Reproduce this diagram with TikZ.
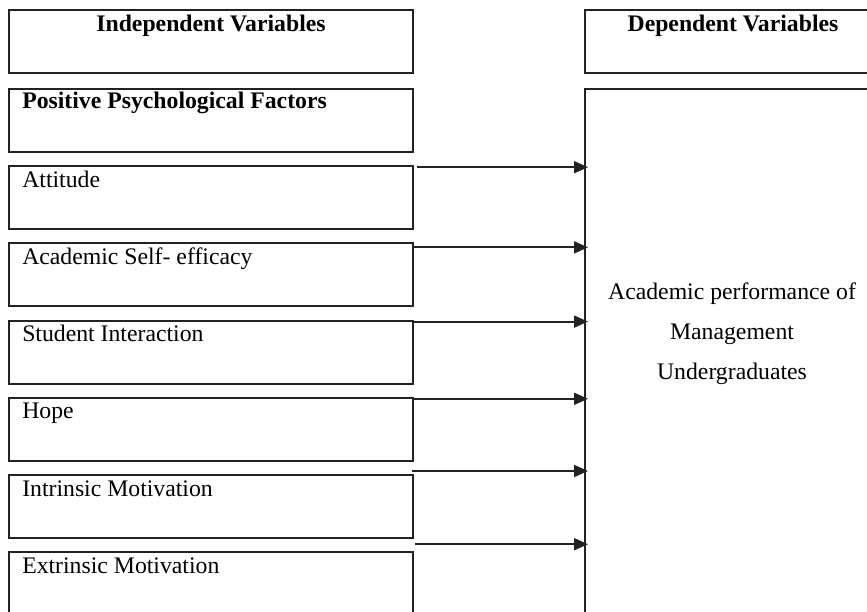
\documentclass[tikz,border=0pt]{standalone}
\usepackage{fontspec}
\setmainfont{Liberation Serif}
\usetikzlibrary{arrows.meta,calc,positioning}
\definecolor{cLine}{HTML}{222222}

\begin{document}
\begin{tikzpicture}[x=0.75pt,y=-0.75pt,
   box/.style={draw=cLine,line width=1.5pt,inner sep=0pt,anchor=north west,
     minimum width=303pt,minimum height=47.25pt},
   dvbox/.style={box,minimum width=222pt},
   txt/.style={inner sep=0pt,font=\fontsize{17.8}{30}\selectfont},
   arr/.style={draw=cLine,line width=1.4pt,-{Triangle[length=10.5pt,width=9pt]}}]
  \clip (0,0) rectangle (867,611);
  % independent side
  \node[box] (ivHead) at (8,9) {};
  \node[txt,anchor=base] (ivHead-t) at ($(ivHead.north)+(0,22)$) {\bfseries Independent Variables};
  \node[box] (ppf) at (8,88) {};
  \node[txt,anchor=base west] (ppf-t) at ($(ppf.north west)+(14,20)$) {\bfseries Positive Psychological Factors};
  \foreach \n/\lab [count=\i] in {att/Attitude,ase/Academic Self- efficacy,sin/Student Interaction,
      hop/Hope,imo/Intrinsic Motivation,emo/Extrinsic Motivation}{
    \node[box] (\n) at (8,88+77.2*\i) {};
    \node[txt,anchor=base west] (\n-t) at ($(\n.north west)+(14,22)$) {\lab};
  }
  % dependent side
  \node[dvbox] (dvHead) at (584,9) {};
  \node[txt,anchor=base] (dvHead-t) at ($(dvHead.north)+(0,22)$) {\bfseries Dependent Variables};
  \node[dvbox,minimum height=420pt] (perf) at (584,88) {};
  \node[txt,align=center] (perf-t) at (732,334) {Academic performance of\\Management\\Undergraduates};
  % arrows
  \foreach \n/\dx/\dy in {att/3/2,ase/0/5,sin/-2/2,hop/0/2,imo/-2/-3,emo/1/-7}{
    \coordinate (\n-a) at ($(\n.north east)+(\dx,\dy)$);
    \draw[arr] (\n-a) -- ($(\n-a -| perf.west)+(4,0)$);
  }
\end{tikzpicture}
\end{document}
